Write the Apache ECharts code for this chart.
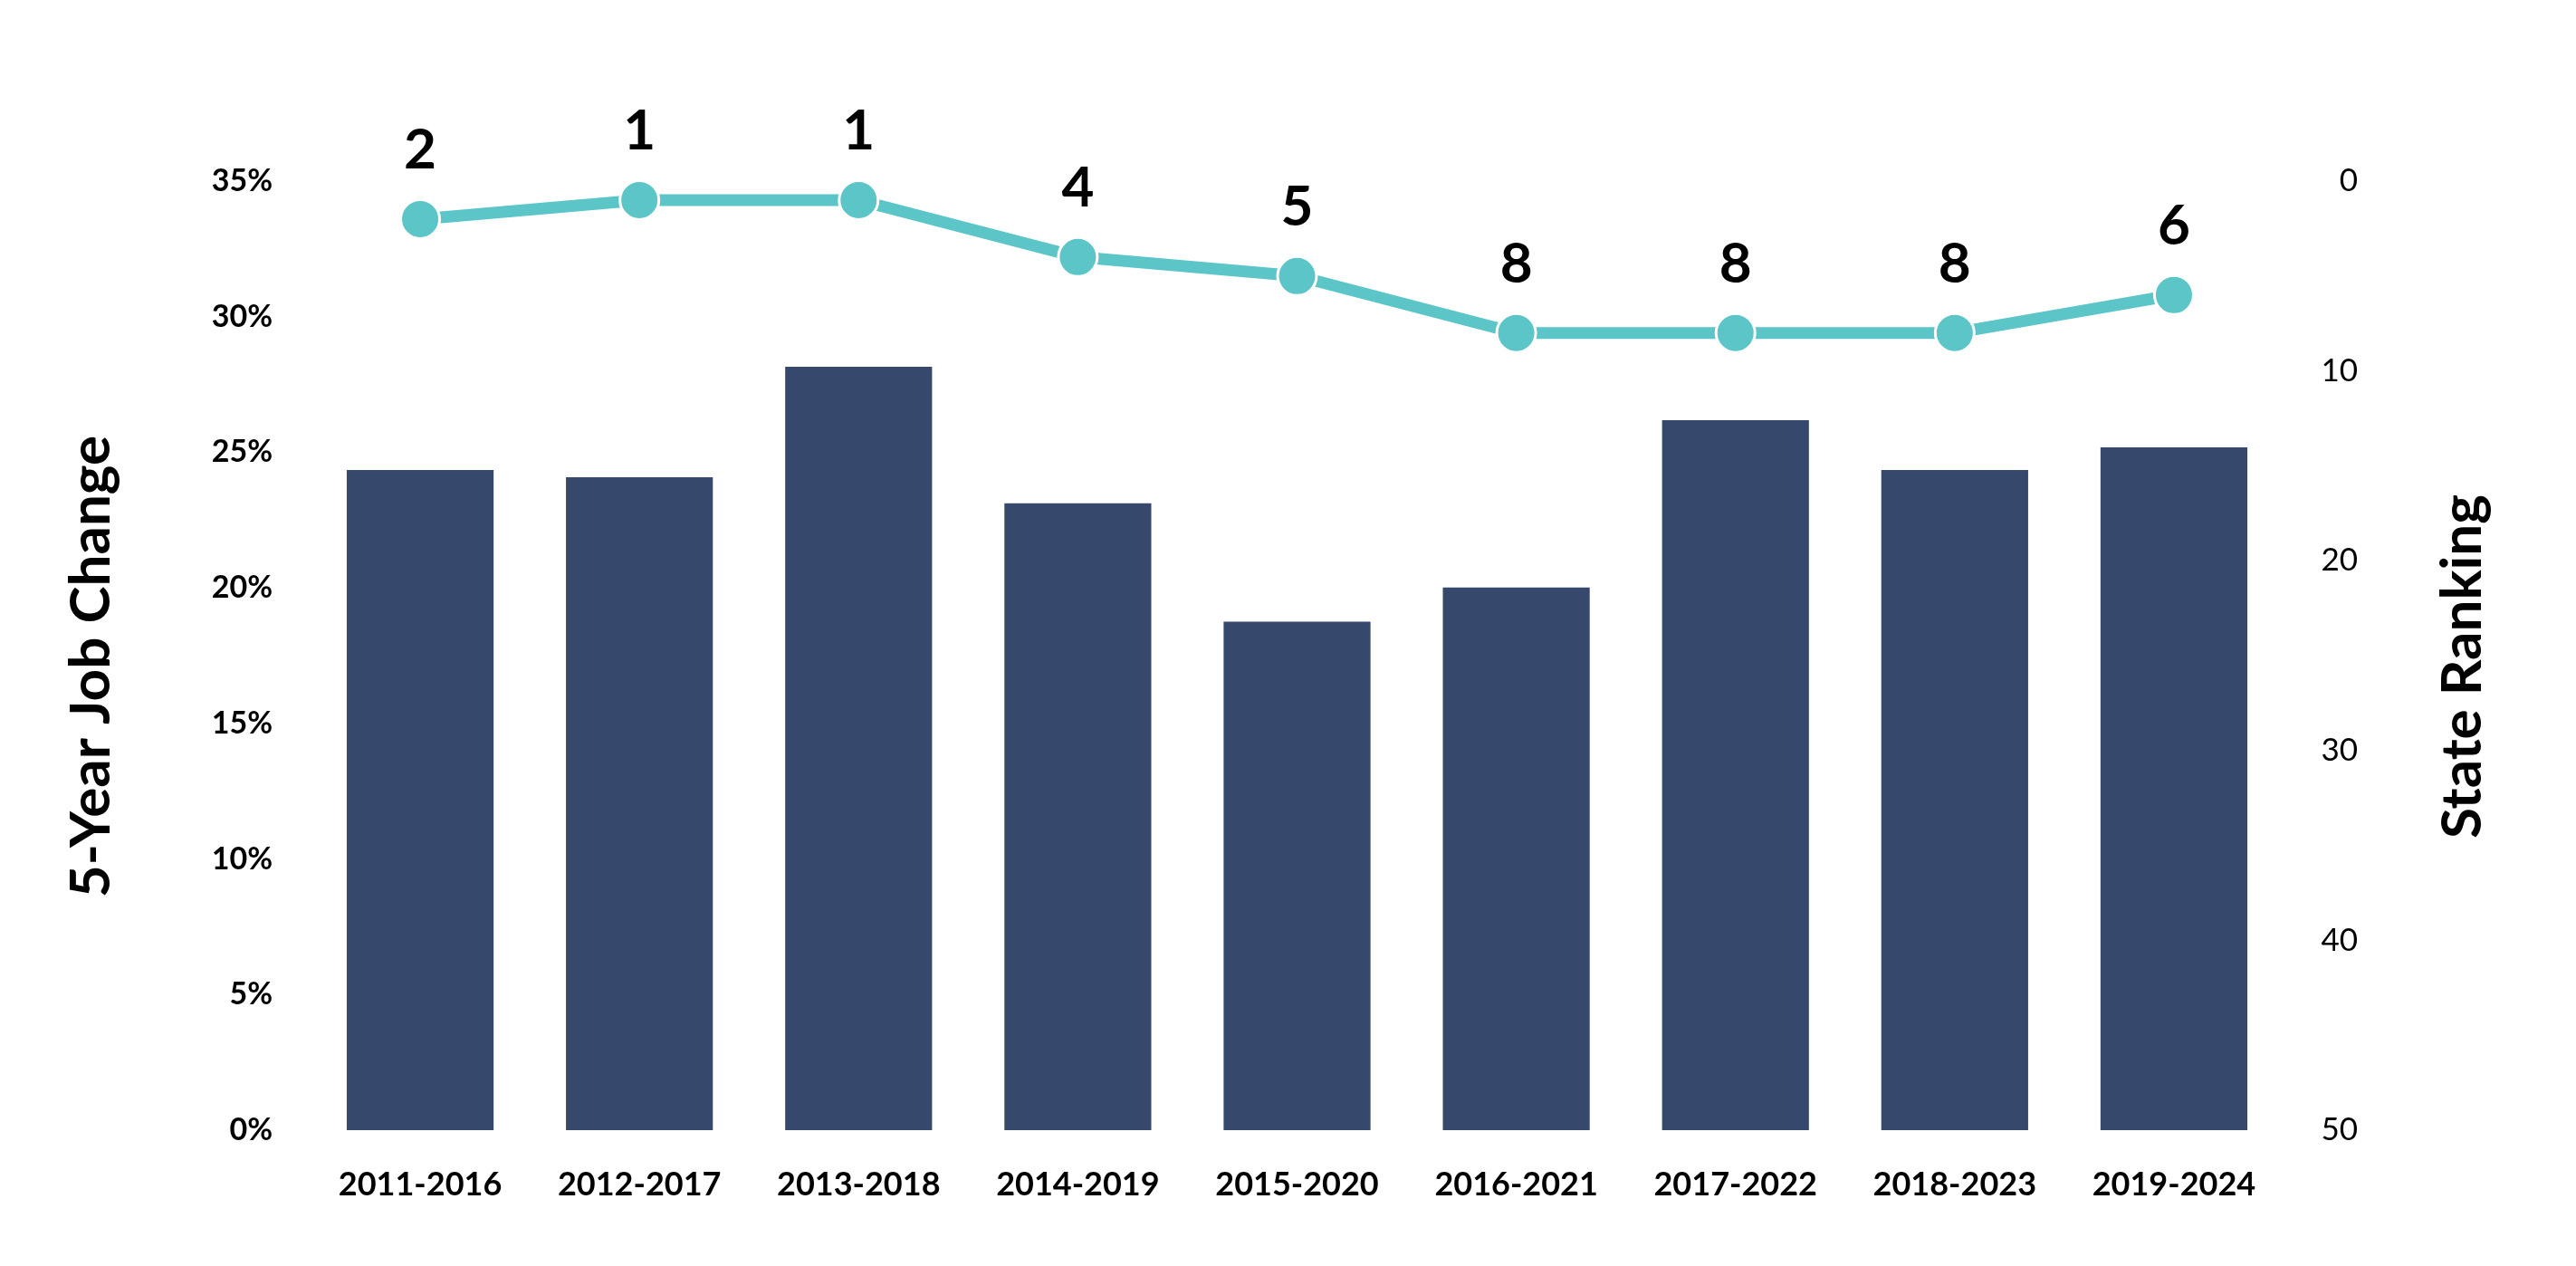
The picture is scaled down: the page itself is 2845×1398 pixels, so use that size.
<!DOCTYPE html>
<html lang="en">
<head>
    <meta charset="UTF-8">
    <title>5-Year Job Change</title>
    <script src="https://cdn.jsdelivr.net/npm/echarts@6/dist/echarts.min.js"></script>
    <style type="text/css">
        html, body{
            margin: 0;
            padding: 0;
            background-color: #fff;
        }
        #main{
            width: 2845px;
            height: 1398px;
        }
    </style>
</head>
<body>
    <div id="main"></div>
    <script>
        var periods = ['2011-2016', '2012-2017', '2013-2018', '2014-2019', '2015-2020',
                       '2016-2021', '2017-2022', '2018-2023', '2019-2024'];
        // 5-year job change, percent
        var jobChange = [24.35, 24.08, 28.15, 23.12, 18.75, 20.01, 26.18, 24.35, 25.18];
        // state ranking (1 = best)
        var ranking = [2, 1, 1, 4, 5, 8, 8, 8, 6];

        var myChart = echarts.init(document.getElementById('main'));

        var option = {
            backgroundColor: '#fff',
            textStyle: {
                fontFamily: 'Lato'
            },
            grid: {
                left: 343,
                right: 323,
                top: 200,
                bottom: 150
            },
            xAxis: {
                type: 'category',
                data: periods,
                axisLine: { show: false },
                axisTick: { show: false },
                axisLabel: {
                    interval: 0,
                    margin: 42,
                    color: '#000',
                    fontSize: 36,
                    fontWeight: 'bold',
                    fontFamily: 'Lato'
                }
            },
            yAxis: [
                {
                    type: 'value',
                    min: 0,
                    max: 35,
                    interval: 5,
                    name: '5-Year Job Change',
                    nameLocation: 'middle',
                    nameRotate: 90,
                    nameGap: 211,
                    nameTextStyle: {
                        color: '#000',
                        fontSize: 62,
                        fontWeight: 'bold',
                        fontFamily: 'Lato',
                        padding: [0, 24, 0, 0]   // nudge the title a little lower
                    },
                    axisLine: { show: false },
                    axisTick: { show: false },
                    splitLine: { show: false },
                    axisLabel: {
                        formatter: '{value}%',
                        margin: 42,
                        color: '#000',
                        fontSize: 34,
                        fontWeight: 'bold',
                        fontFamily: 'Lato'
                    }
                },
                {
                    type: 'value',
                    min: 0,
                    max: 50,
                    interval: 10,
                    inverse: true,
                    name: 'State Ranking',
                    nameLocation: 'middle',
                    nameRotate: 90,
                    nameGap: 167,
                    nameTextStyle: {
                        color: '#000',
                        fontSize: 62,
                        fontWeight: 'bold',
                        fontFamily: 'Lato',
                        padding: [0, 24, 0, 0]
                    },
                    axisLine: { show: false },
                    axisTick: { show: false },
                    splitLine: { show: false },
                    axisLabel: {
                        margin: 82,
                        align: 'right',
                        color: '#000',
                        fontSize: 35,
                        fontFamily: 'Lato'
                    }
                }
            ],
            series: [
                {
                    name: '5-Year Job Change',
                    type: 'bar',
                    data: jobChange,
                    barWidth: '67%',
                    itemStyle: {
                        color: '#36496c'
                    }
                },
                {
                    name: 'State Ranking',
                    type: 'line',
                    yAxisIndex: 1,
                    data: ranking,
                    symbol: 'circle',
                    symbolSize: 43,
                    lineStyle: {
                        color: '#5bc5c8',
                        width: 13
                    },
                    itemStyle: {
                        color: '#5bc5c8',
                        borderColor: '#fff',
                        borderWidth: 3
                    },
                    label: {
                        show: true,
                        position: 'top',
                        distance: 22,
                        color: '#000',
                        fontSize: 62,
                        fontWeight: 'bold',
                        fontFamily: 'Lato'
                    },
                    z: 3
                }
            ]
        };

        myChart.setOption(option);
    </script>
</body>
</html>
